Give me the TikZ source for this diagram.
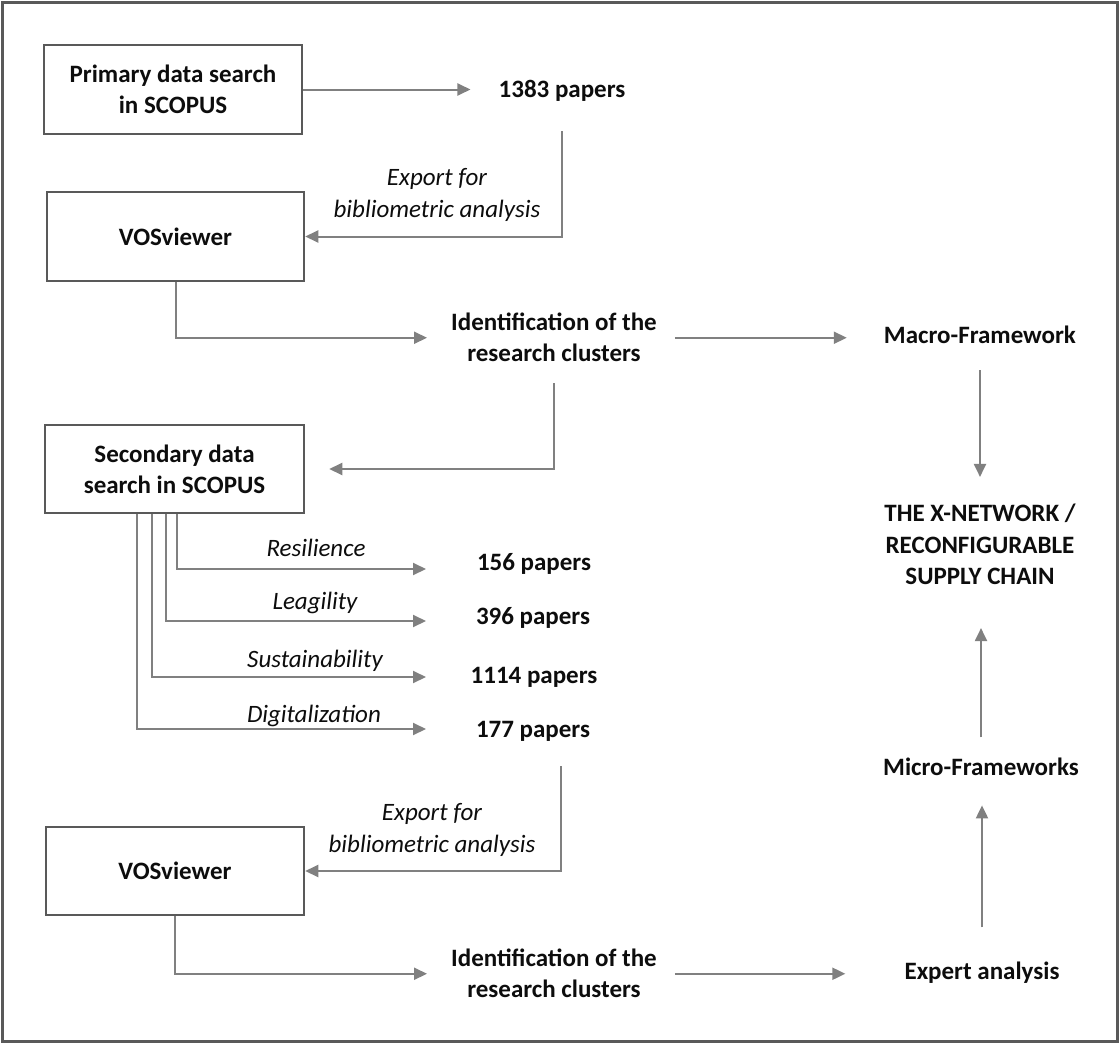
\documentclass[tikz,border=0pt]{standalone}
\usepackage{fontspec}
\setmainfont{Carlito}
\usetikzlibrary{arrows.meta}
\definecolor{framec}{HTML}{595959}
\definecolor{boxc}{HTML}{595959}
\definecolor{linec}{HTML}{808080}
\definecolor{txtc}{HTML}{0D0D0D}
\begin{document}
\begin{tikzpicture}[x=1pt,y=-1pt,
  font=\fontsize{25}{31}\selectfont\bfseries,
  box/.style={draw=boxc, line width=2.5pt, align=center, inner sep=0pt, text=txtc},
  lbl/.style={align=center, inner sep=0pt, text=txtc},
  ital/.style={lbl, font=\fontsize{25}{32}\selectfont\itshape},
  arr/.style={draw=linec, line width=2pt, -{Triangle[length=13pt,width=12pt]}}
]
\useasboundingbox (0,0) rectangle (1120,1044);
\fill[white] (0,0) rectangle (1120,1044);
\draw[framec, line width=3.5pt] (2.5,2.5) rectangle (1117.5,1041.5);

% boxes
\node[box, minimum width=258pt, minimum height=89pt] (b1) at (173,89.5) {Primary data search\\in SCOPUS};
\node[box, minimum width=257pt, minimum height=89pt] (b2) at (175.5,236.5) {VOSviewer};
\node[box, minimum width=259pt, minimum height=88pt] (b3) at (174.5,469) {Secondary data\\search in SCOPUS};
\node[box, minimum width=258pt, minimum height=88pt] (b4) at (175,871) {VOSviewer};

% texts
\node[lbl, anchor=base] (t1383) at (562,97) {1383 papers};
\node[ital] (ex1) at (437,194.75) {Export for\\bibliometric analysis};
\node[lbl] (id1) at (554,337.75) {Identification of the\\research clusters};
\node[lbl, anchor=base] (macro) at (980,343) {Macro-Framework};
\node[lbl, font=\fontsize{25}{31.5}\selectfont\bfseries] (xnet) at (980,544.5) {THE X-NETWORK /\\RECONFIGURABLE\\SUPPLY CHAIN};

\node[ital, anchor=base] (lres) at (316,556) {Resilience};
\node[ital, anchor=base] (llea) at (315,609) {Leagility};
\node[ital, anchor=base] (lsus) at (315,667) {Sustainability};
\node[ital, anchor=base] (ldig) at (314,722) {Digitalization};

\node[lbl, anchor=base] (p156) at (534,570) {156 papers};
\node[lbl, anchor=base] (p396) at (533,624) {396 papers};
\node[lbl, anchor=base] (p1114) at (534,683) {1114 papers};
\node[lbl, anchor=base] (p177) at (533,737) {177 papers};

\node[ital] (ex2) at (432,829.75) {Export for\\bibliometric analysis};
\node[lbl] (id2) at (554,973.75) {Identification of the\\research clusters};
\node[lbl, anchor=base] (expert) at (982,979) {Expert analysis};
\node[lbl, anchor=base] (micro) at (981,775) {Micro-Frameworks};

% branch arrow tips
\coordinate (r1) at (426,569);
\coordinate (r2) at (426,621);
\coordinate (r3) at (426,677);
\coordinate (r4) at (426,729);

% connectors
\draw[arr, shorten >=28pt] (b1.east) -- (b1.east -| t1383.west);
\draw[arr, shorten <=30pt] (t1383.south) |- (b2.east);
\draw[arr, shorten >=24pt] (b2.south) |- (id1.west);
\draw[arr, shorten <=18pt, shorten >=37pt] (id1.east) -- (id1.east -| macro.west);
\draw[arr, shorten <=27pt, shorten >=27pt] (macro.south) -- (macro.south |- xnet.north);
\draw[arr, shorten <=21pt, shorten >=24pt] (id1.south) |- (b3.east);
\draw[arr] ([xshift=2.5pt]b3.south) |- (r1);
\draw[arr] ([xshift=-8.5pt]b3.south) |- (r2);
\draw[arr] ([xshift=-22.5pt]b3.south) |- (r3);
\draw[arr] ([xshift=-37.5pt]b3.south) |- (r4);
\draw[arr, shorten <=25pt] ([xshift=28pt]p177.south) |- (b4.east);
\draw[arr, shorten >=24pt] (b4.south) |- (id2.west);
\draw[arr, shorten <=18pt, shorten >=59pt] (id2.east) -- (id2.east -| expert.west);
\draw[arr, shorten <=34pt, shorten >=30pt] (expert.north) -- (expert.north |- micro.south);
\draw[arr, shorten <=20pt, shorten >=43pt] (micro.north) -- (micro.north |- xnet.south);
\end{tikzpicture}
\end{document}
